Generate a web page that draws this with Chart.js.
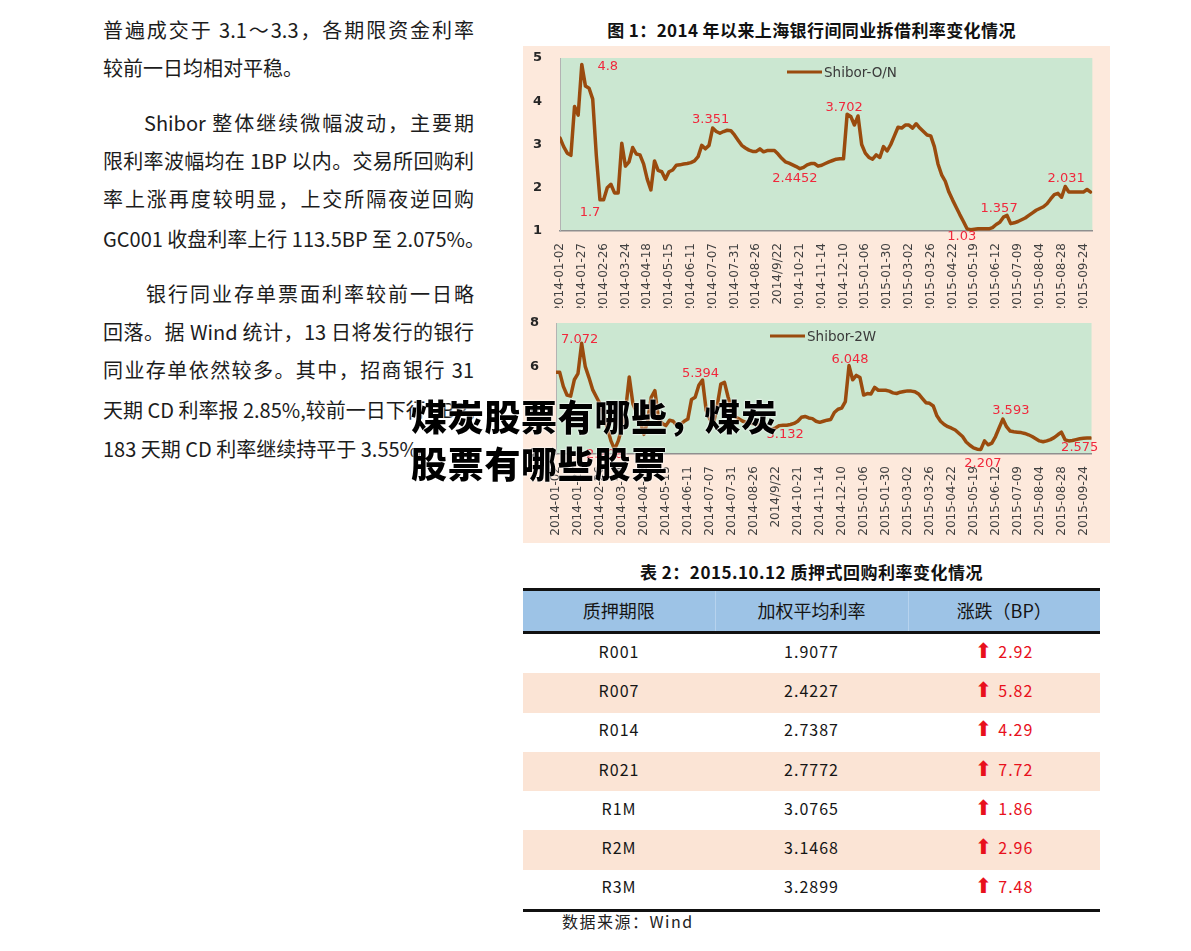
<!DOCTYPE html>
<html><head><meta charset="utf-8">
<script src="https://cdn.jsdelivr.net/npm/chart.js@4.4.1/dist/chart.umd.min.js"></script>
<style>
html,body{margin:0;padding:0;background:#fff;}
body{width:1191px;height:951px;position:relative;overflow:hidden;font-family:"Noto Sans CJK SC",sans-serif;color:#1c1c1c;}
.ln{position:absolute;left:103px;width:371px;font-size:20px;line-height:24px;white-space:nowrap;}
.j{text-align:justify;text-align-last:justify;}
.ttl{position:absolute;left:518px;width:587px;text-align:center;font-weight:bold;font-size:17px;line-height:24px;color:#111;}
#panel{position:absolute;left:523px;top:46px;width:587px;height:497px;background:#fde9dc;}
.cbox{position:absolute;left:523px;width:587px;}
#tbl{position:absolute;left:523px;top:588px;width:577px;border-collapse:collapse;table-layout:fixed;font-size:16px;color:#151515;}
#tbl th{background:#9dc3e6;height:38px;font-weight:normal;font-size:18px;border-top:3px solid #111;border-bottom:3px solid #111;padding:0 0 2px 0;}
#tbl th+th{border-left:1px solid #b7d3ee;}
#tbl td{height:33.3px;text-align:center;padding:0 0 6px 0;letter-spacing:1px;}
#tbl tr.alt td{background:#fbe4d5;}
#tbl tr:last-child td{border-bottom:3px solid #111;}
.up{color:#e8101c;}
.arr{font-family:"DejaVu Sans";font-size:21px;line-height:16px;margin-right:5px;}
#src{position:absolute;left:562px;top:909px;font-size:16px;line-height:24px;letter-spacing:1.5px;color:#222;}
#ov{position:absolute;left:411px;top:392px;font-size:36px;line-height:47px;font-weight:900;color:#000;letter-spacing:0.7px;white-space:nowrap;text-shadow:0 0 2px #fff,0 0 2px #fff;}
</style></head>
<body>
<div class="ln j" style="top:18px">普遍成交于 3.1～3.3，各期限资金利率</div>
<div class="ln" style="top:56px">较前一日均相对平稳。</div>
<div class="ln j" style="top:111px;left:144px;width:330px">Shibor 整体继续微幅波动，主要期</div>
<div class="ln j" style="top:149px">限利率波幅均在 1BP 以内。交易所回购利</div>
<div class="ln j" style="top:187px">率上涨再度较明显，上交所隔夜逆回购</div>
<div class="ln j" style="top:227px">GC001 收盘利率上行 113.5BP 至 2.075%。</div>
<div class="ln j" style="top:282px;left:146px;width:328px">银行同业存单票面利率较前一日略</div>
<div class="ln j" style="top:320px">回落。据 Wind 统计，13 日将发行的银行</div>
<div class="ln j" style="top:358px">同业存单依然较多。其中，招商银行 31</div>
<div class="ln j" style="top:398px">天期 CD 利率报 2.85%,较前一日下行 3BP，</div>
<div class="ln" style="top:437px">183 天期 CD 利率继续持平于 3.55%。</div>

<div class="ttl" style="top:18px;letter-spacing:0.4px">图 1：2014 年以来上海银行间同业拆借利率变化情况</div>
<div id="panel"></div>
<div class="cbox" style="top:46px;height:262px"><canvas id="c1"></canvas></div>
<div class="cbox" style="top:313px;height:230px"><canvas id="c2"></canvas></div>

<div class="ttl" style="top:560px;letter-spacing:0.5px">表 2：2015.10.12 质押式回购利率变化情况</div>
<table id="tbl"><colgroup><col style="width:192px"><col style="width:193px"><col style="width:192px"></colgroup>
<thead><tr><th>质押期限</th><th>加权平均利率</th><th>涨跌（BP）</th></tr></thead><tbody id="tb"></tbody></table>
<div id="src">数据来源：Wind</div>

<div id="ov">煤炭股票有哪些，煤炭<br>股票有哪些股票</div>

<script>
// ---- data ----
const dateLabels = ['2014-01-02','2014-01-27','2014-02-26','2014-03-24','2014-04-18','2014-05-15','2014-06-11','2014-07-07','2014-07-31','2014-08-26','2014/9/22','2014-10-21','2014-11-14','2014-12-10','2015-01-06','2015-01-30','2015-03-02','2015-03-26','2015-04-22','2015-05-19','2015-06-12','2015-07-09','2015-08-04','2015-08-28','2015-09-24'];
const samplesPerLabel = 6;
const shiborON = [3.15,2.95,2.8,2.75,3.88,3.68,4.85,4.35,4.3,4.05,
 2.74,1.72,1.72,2.0,2.08,1.88,1.88,3.03,2.5,2.6,
 2.93,2.78,2.76,2.55,2.2,1.95,2.62,2.4,2.37,2.2,
 2.37,2.41,2.52,2.53,2.55,2.56,2.58,2.62,2.72,2.98,
 2.9,2.98,3.38,3.3,3.26,3.3,3.33,3.32,3.22,3.1,
 2.98,2.92,2.87,2.84,2.84,2.9,2.83,2.86,2.86,2.86,
 2.78,2.68,2.6,2.57,2.53,2.49,2.44,2.47,2.53,2.56,
 2.56,2.5,2.52,2.56,2.6,2.63,2.66,2.67,2.67,3.7,
 3.65,3.45,3.66,3.0,2.8,2.7,2.66,2.76,2.7,2.95,
 2.85,3.0,3.2,3.4,3.38,3.45,3.45,3.38,3.48,3.38,
 3.3,3.22,3.2,2.95,2.55,2.3,2.15,1.9,1.72,1.55,
 1.38,1.22,1.05,1.03,1.04,1.05,1.05,1.05,1.05,1.08,
 1.15,1.2,1.32,1.36,1.17,1.19,1.22,1.26,1.3,1.36,
 1.42,1.48,1.52,1.56,1.63,1.74,1.84,1.87,1.78,2.03,
 1.9,1.9,1.9,1.9,1.9,1.96,1.9];
const shibor2W = [5.75,5.75,5.1,4.7,4.65,5.4,5.68,7.07,6.0,5.5,
 4.95,4.62,4.3,3.8,3.2,2.6,2.21,2.6,3.2,4.0,
 5.53,4.3,3.9,3.5,2.9,3.5,4.6,4.9,3.6,3.4,
 3.3,3.55,3.5,3.3,3.35,3.5,3.6,4.5,4.6,5.15,
 5.39,4.0,3.6,3.4,4.2,5.2,5.28,4.6,4.0,3.7,
 3.6,3.5,3.45,3.42,3.38,3.35,3.3,3.2,3.15,3.13,
 3.2,3.3,3.32,3.32,3.35,3.4,3.5,3.68,3.72,3.65,
 3.62,3.5,3.45,3.5,3.55,3.58,3.9,4.05,4.1,4.4,
 6.05,5.4,5.6,5.5,4.7,4.77,4.75,5.05,4.92,4.92,
 4.92,4.88,4.8,4.77,4.83,4.86,4.89,4.88,4.85,4.75,
 4.55,4.35,4.32,4.2,3.75,3.5,3.35,3.25,3.18,3.1,
 2.95,2.8,2.55,2.4,2.28,2.22,2.21,2.6,2.42,2.5,
 2.8,3.2,3.6,3.25,3.05,3.02,3.0,2.98,2.94,2.88,
 2.8,2.7,2.6,2.56,2.6,2.66,2.75,2.88,3.0,2.65,
 2.6,2.62,2.66,2.7,2.72,2.73,2.73];
const markIdxON = [6,11,42,66,79,113,123,139];
const markTextON = ['4.8','1.7','3.351','2.4452','3.702','1.03','1.357','2.031'];
const markIdx2W = [7,16,40,59,80,116,122,146];
const markText2W = ['7.072','2.208','5.394','3.132','6.048','2.207','3.593','2.575'];
const tenors = ['R001','R007','R014','R021','R1M','R2M','R3M'];
const avgRates = ['1.9077','2.4227','2.7387','2.7772','3.0765','3.1468','3.2899'];
const bpChanges = ['2.92','5.82','4.29','7.72','1.86','2.96','7.48'];

// ---- styles ----
const LINE = '#9a4b0e';
const offsetsON = [[26,2],[-10,13],[-2,-8],[-5,10],[-3,-7],[-9,7],[-8,-7],[1,-8]];
const offsets2W = [[-2,-4],[-10,5],[-2,-6],[13,5],[1,-6],[2,14],[8,-8],[-11,10]];

const decor = {
  id:'decor',
  beforeDraw(chart, args, o){
    const {ctx, chartArea:a} = chart;
    ctx.save(); ctx.fillStyle = '#cbe7d1';
    ctx.fillRect(a.left, a.top, a.right-a.left, a.bottom-a.top); ctx.restore();
  },
  afterDatasetsDraw(chart, args, o){
    const {ctx, chartArea:a} = chart;
    const meta = chart.getDatasetMeta(0);
    ctx.save();
    ctx.font = '13px "DejaVu Sans"'; ctx.fillStyle = '#f0283c';
    ctx.textAlign = 'center'; ctx.textBaseline = 'middle';
    o.idx.forEach((k,j)=>{ const p = meta.data[k]; ctx.fillText(o.texts[j], p.x+o.offsets[j][0], p.y+o.offsets[j][1]); });
    const lx = a.left + o.legend[0], ly = a.top + o.legend[1];
    ctx.strokeStyle = LINE; ctx.lineWidth = 3; ctx.beginPath(); ctx.moveTo(lx, ly); ctx.lineTo(lx+35, ly); ctx.stroke();
    ctx.fillStyle = '#3a3a3a'; ctx.textAlign = 'left'; ctx.font = '13.5px "DejaVu Sans"';
    ctx.fillText(chart.data.datasets[0].label, lx+37, ly+1);
    ctx.restore();
  }
};

function makeChart(id, c){
  return new Chart(document.getElementById(id), {
    type:'line',
    data:{datasets:[{label:c.name, data:c.values.map((v,k)=>({x:k/samplesPerLabel, y:v})),
      borderColor:LINE, borderWidth:3.5, pointRadius:0, tension:0, fill:false, borderJoinStyle:'round', borderCapStyle:'round'}]},
    options:{
      responsive:true, maintainAspectRatio:false, animation:false, devicePixelRatio:1,
      layout:{padding:c.padding},
      plugins:{legend:{display:false}, tooltip:{enabled:false},
        decor:{idx:c.idx, texts:c.texts, offsets:c.offsets, legend:c.legend}},
      scales:{
        x:{type:'linear', min:0, max:c.xMax,
          afterBuildTicks:s=>{ s.ticks = dateLabels.map((_,i)=>({value:i})); },
          ticks:{autoSkip:false, minRotation:90, maxRotation:90, padding:c.xPad, color:'#404040',
            font:{family:'DejaVu Sans', size:12}, callback:v=>dateLabels[v]},
          grid:{display:false, drawTicks:false},
          border:{display:true, color:'#8f8f8f', width:1.5},
          afterFit:s=>{ s.height = c.xH; }},
        y:{min:c.yMin, max:c.yMax,
          ticks:{stepSize:c.yStep, padding:0, crossAlign:'far', color:'#262626', font:{family:'DejaVu Sans', size:13, weight:'bold'}},
          grid:{display:false, drawTicks:false},
          border:{display:true, color:'#b3b3b3', width:1},
          afterFit:s=>{ s.width = c.yW; }}
      }
    },
    plugins:[decor]
  });
}

makeChart('c1', {name:'Shibor-O/N', values:shiborON, idx:markIdxON, texts:markTextON, offsets:offsetsON,
  legend:[227,14], padding:{left:10,right:13,top:12,bottom:0}, xMax:24.41, xPad:12, xH:77,
  yMin:1, yMax:5, yStep:1, yW:27});
makeChart('c2', {name:'Shibor-2W', values:shibor2W, idx:markIdx2W, texts:markText2W, offsets:offsets2W,
  legend:[214,13], padding:{left:7,right:13,top:10,bottom:0}, xMax:24.37, xPad:12, xH:89,
  yMin:2, yMax:8, yStep:2, yW:26});

// ---- table ----
const tb = document.getElementById('tb');
tenors.forEach((t,i)=>{
  const tr = document.createElement('tr');
  if (i % 2 === 1) tr.className = 'alt';
  tr.innerHTML = '<td>'+t+'</td><td>'+avgRates[i]+'</td><td class="up"><span class="arr">⬆</span>'+bpChanges[i]+'</td>';
  tb.appendChild(tr);
});
</script>
</body></html>
